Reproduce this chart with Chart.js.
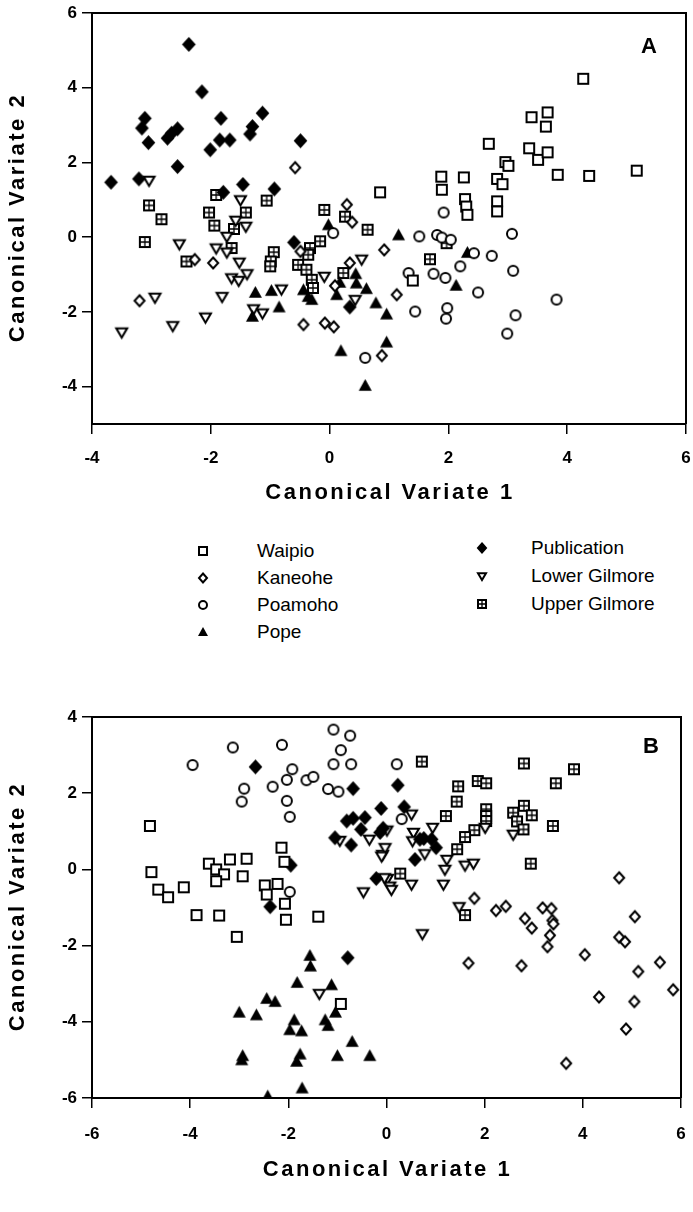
<!DOCTYPE html>
<html>
<head>
<meta charset="utf-8">
<script src="https://cdn.jsdelivr.net/npm/chart.js@4.4.0/dist/chart.umd.min.js"></script>
<style>
  html, body { margin: 0; padding: 0; background: #fff; }
  #page { position: relative; width: 693px; height: 1212px; overflow: hidden; background: #fff; }
  #chartA { position: absolute; left: 0; top: 0; }
  #chartB { position: absolute; left: 0; top: 690px; }
  .leg { position: absolute; font: 19px "Liberation Sans", Arial, sans-serif; color: #000; white-space: nowrap; line-height: 22px; height: 22px; }
  .leg canvas { position: absolute; }
</style>
</head>
<body>
<div id="page">
  <canvas id="chartA" width="693" height="510"></canvas>
  <div id="legend"></div>
  <canvas id="chartB" width="693" height="522"></canvas>
</div>
<script>
// ---------------- DATA (panel A) ----------------
const xTicksA = [-4, -2, 0, 2, 4, 6];
const yTicksA = [6, 4, 2, 0, -2, -4];

const waipioA = [[4.27,4.24],[3.40,3.21],[3.67,3.34],[3.64,2.96],[2.68,2.50],[3.36,2.38],[3.51,2.07],[3.67,2.27],
  [2.96,2.01],[3.01,1.91],[3.84,1.67],[4.37,1.64],[5.17,1.78],[1.88,1.62],[1.89,1.27],[2.26,1.60],[2.82,1.56],
  [2.91,1.42],[2.28,1.02],[2.30,0.82],[2.32,0.60],[2.82,0.96],[2.82,0.69],[0.85,1.20],[1.40,-1.16]];
const kaneoheA = [[-0.58,1.86],[0.29,0.87],[0.38,0.40],[-0.49,-0.38],[-1.96,-0.69],[-2.27,-0.60],[-3.20,-1.70],
  [0.34,-0.69],[0.92,-0.34],[0.09,-1.30],[0.88,-3.17],[-0.44,-2.34],[-0.08,-2.30],[0.07,-2.40],[1.13,-1.54]];
const poamohoA = [[1.92,0.66],[1.51,0.02],[1.81,0.06],[1.89,-0.01],[2.04,-0.07],[3.07,0.09],[2.43,-0.43],[2.73,-0.50],
  [2.20,-0.78],[3.09,-0.90],[1.33,-0.96],[1.75,-0.98],[1.95,-1.09],[2.50,-1.48],[3.82,-1.67],[1.44,-1.99],
  [1.98,-1.90],[1.96,-2.18],[3.13,-2.09],[2.99,-2.58],[0.06,0.11],[0.60,-3.23]];
const popeA = [[-0.02,0.33],[1.16,0.06],[2.32,-0.41],[2.13,-1.29],[-1.25,-1.48],[-0.98,-1.43],[-0.85,-1.87],
  [-1.30,-2.12],[-0.44,-1.41],[-0.36,-1.59],[-0.30,-1.67],[0.12,-1.54],[0.17,-1.21],[0.44,-0.98],[0.45,-1.23],
  [0.62,-1.38],[0.78,-1.76],[0.96,-2.06],[0.96,-2.81],[0.19,-3.04],[0.60,-3.97]];
const publicationA = [[-2.37,5.16],[-2.15,3.89],[-3.11,3.18],[-3.16,2.92],[-3.05,2.53],[-2.73,2.65],[-2.66,2.78],
  [-2.56,2.90],[-1.83,3.18],[-1.85,2.60],[-1.68,2.60],[-2.01,2.34],[-1.13,3.32],[-1.30,2.96],[-1.34,2.76],
  [-0.49,2.58],[-2.56,1.89],[-3.68,1.47],[-3.21,1.56],[-1.46,1.41],[-0.93,1.29],[-1.79,1.20],[-0.60,-0.14],[0.34,-1.87]];
const lowerGilmoreA = [[-3.04,1.52],[-1.50,1.00],[-1.58,0.45],[-1.41,0.29],[-1.73,0.02],[-2.53,-0.18],[-1.91,-0.29],
  [-1.73,-0.40],[-1.52,-0.67],[-1.65,-1.09],[-1.53,-1.16],[-1.39,-0.98],[-2.94,-1.61],[-1.81,-1.59],[-0.81,-1.39],
  [-1.28,-1.92],[-1.13,-2.03],[-2.09,-2.14],[-2.64,-2.37],[-3.50,-2.54],[-0.09,-1.05],[0.54,-0.59],[0.43,-1.67]];
const upperGilmoreA = [[-3.04,0.85],[-2.83,0.48],[-1.91,1.13],[-2.03,0.66],[-1.94,0.31],[-1.61,0.22],[-1.41,0.66],
  [-1.06,0.98],[-0.09,0.73],[0.26,0.55],[0.64,0.20],[-3.11,-0.13],[-1.65,-0.29],[-2.41,-0.65],[-0.94,-0.40],
  [-0.99,-0.65],[-1.00,-0.78],[-0.53,-0.74],[-0.33,-0.29],[-0.16,-0.11],[-0.36,-0.47],[-0.39,-0.87],[-0.30,-1.14],
  [-0.28,-1.36],[0.23,-0.96],[1.69,-0.59],[1.97,-0.16]];

// ---------------- DATA (panel B) ----------------
const xTicksB = [-6, -4, -2, 0, 2, 4, 6];
const yTicksB = [4, 2, 0, -2, -4, -6];

const waipioB = [[-4.82,1.14],[-4.79,-0.07],[-4.65,-0.53],[-4.45,-0.73],[-4.13,-0.47],[-3.62,0.15],[-3.47,0.00],
  [-3.19,0.26],[-2.85,0.28],[-3.31,-0.13],[-3.47,-0.31],[-2.93,-0.18],[-2.14,0.57],[-2.08,0.20],[-2.48,-0.42],
  [-2.22,-0.38],[-2.44,-0.66],[-2.07,-0.90],[-2.05,-1.32],[-3.87,-1.20],[-3.41,-1.21],[-1.39,-1.24],[-3.05,-1.77],[-0.93,-3.53]];
const kaneoheB = [[4.74,-0.22],[1.79,-0.76],[2.23,-1.08],[2.43,-0.97],[2.82,-1.29],[2.96,-1.54],[3.18,-1.01],
  [3.36,-1.03],[3.38,-1.34],[3.40,-1.43],[3.33,-1.73],[3.28,-2.03],[5.06,-1.24],[4.74,-1.78],[4.86,-1.90],
  [4.04,-2.24],[1.67,-2.46],[2.75,-2.53],[5.57,-2.44],[5.13,-2.68],[5.84,-3.16],[4.33,-3.35],[5.05,-3.47],
  [4.88,-4.19],[3.66,-5.09]];
const poamohoB = [[-1.08,3.67],[-0.74,3.51],[-0.93,3.13],[-1.08,2.76],[-0.72,2.76],[-3.13,3.20],[-2.13,3.27],
  [-3.95,2.74],[-1.92,2.63],[-2.03,2.35],[-2.32,2.17],[-1.63,2.34],[-1.49,2.43],[-2.90,2.12],[-2.95,1.78],
  [-2.03,1.80],[-1.97,1.38],[-1.19,2.11],[-0.98,2.04],[-1.97,-0.59],[0.21,2.76],[0.31,1.32]];
const popeB = [[-1.56,-2.26],[-1.55,-2.54],[-1.82,-2.97],[-1.12,-3.03],[-2.44,-3.39],[-2.27,-3.47],[-3.00,-3.75],
  [-2.65,-3.82],[-1.88,-3.95],[-1.97,-4.21],[-1.73,-4.24],[-1.25,-3.95],[-1.19,-4.10],[-1.04,-3.75],[-0.70,-4.52],
  [-2.93,-4.89],[-2.95,-5.00],[-1.76,-4.85],[-1.83,-5.04],[-1.00,-4.89],[-0.34,-4.89],[-1.72,-5.74],[-2.42,-5.95]];
const publicationB = [[-2.67,2.69],[-0.68,2.12],[0.23,2.21],[-0.11,1.60],[0.36,1.64],[-0.44,1.36],[-0.81,1.27],
  [-0.68,1.34],[-0.52,1.05],[-1.05,0.83],[-0.72,0.64],[-0.13,0.97],[-0.07,1.08],[0.68,0.79],[0.76,0.81],
  [0.92,0.79],[1.01,0.57],[0.58,0.26],[-0.21,-0.24],[-1.95,0.11],[-2.37,-0.98],[-0.79,-2.32]];
const lowerGilmoreB = [[-0.95,0.76],[-0.35,0.79],[-0.08,0.39],[0.01,1.03],[-0.47,-0.59],[0.02,-0.24],[0.51,1.45],
  [-0.03,0.57],[-0.10,0.35],[0.55,0.97],[0.53,0.75],[0.94,1.10],[0.78,0.41],[1.23,0.26],[1.19,0.00],[1.60,0.11],
  [1.77,0.16],[2.01,1.10],[0.07,-0.44],[0.51,-0.39],[1.16,-0.39],[2.58,0.92],[1.48,-0.98],[0.73,-1.69],
  [-1.37,-3.26],[0.10,-0.53],[-0.04,-0.22]];
const upperGilmoreB = [[0.72,2.83],[2.80,2.78],[3.82,2.63],[3.45,2.26],[1.46,2.18],[1.86,2.32],[2.03,2.26],
  [1.43,1.78],[1.21,1.40],[2.03,1.58],[2.03,1.40],[2.03,1.27],[1.79,1.03],[1.60,0.85],[1.44,0.53],[2.58,1.49],
  [2.80,1.67],[2.96,1.42],[2.66,1.26],[2.79,1.05],[3.39,1.14],[2.94,0.15],[0.28,-0.11],[1.60,-1.20]];

const seriesNames = ["Waipio", "Kaneohe", "Poamoho", "Pope", "Publication", "Lower Gilmore", "Upper Gilmore"];
const seriesKinds = ["square", "diamond", "circle", "triangle", "diamondFilled", "triangleDown", "squareCross"];
const panelAData = [waipioA, kaneoheA, poamohoA, popeA, publicationA, lowerGilmoreA, upperGilmoreA];
const panelBData = [waipioB, kaneoheB, poamohoB, popeB, publicationB, lowerGilmoreB, upperGilmoreB];

// ---------------- SYMBOLS ----------------
function drawSymbol(g, kind, x, y, s) {
  const h = s / 2;
  g.save();
  g.lineWidth = 2;
  g.strokeStyle = "#000";
  g.fillStyle = "#fff";
  g.beginPath();
  if (kind === "square" || kind === "squareCross") {
    g.rect(x - h + 1, y - h + 1, s - 2, s - 2);
    g.fill();
    g.stroke();
    if (kind === "squareCross") {
      g.lineWidth = 1.3;
      g.beginPath();
      g.moveTo(x, y - h + 1); g.lineTo(x, y + h - 1);
      g.moveTo(x - h + 1, y); g.lineTo(x + h - 1, y);
      g.stroke();
    }
  } else if (kind === "circle") {
    g.arc(x, y, h - 1, 0, Math.PI * 2);
    g.fill();
    g.stroke();
  } else if (kind === "diamond" || kind === "diamondFilled") {
    g.moveTo(x, y - h + 0.5);
    g.lineTo(x + h - 1, y);
    g.lineTo(x, y + h - 0.5);
    g.lineTo(x - h + 1, y);
    g.closePath();
    if (kind === "diamondFilled") g.fillStyle = "#000";
    g.fill();
    g.stroke();
  } else if (kind === "triangle") {
    g.moveTo(x, y - h);
    g.lineTo(x + h, y + h * 0.8);
    g.lineTo(x - h, y + h * 0.8);
    g.closePath();
    g.fillStyle = "#000";
    g.fill();
  } else if (kind === "triangleDown") {
    g.moveTo(x - h + 1, y - h * 0.75 + 1);
    g.lineTo(x + h - 1, y - h * 0.75 + 1);
    g.lineTo(x, y + h - 1);
    g.closePath();
    g.fill();
    g.stroke();
  }
  g.restore();
}

function makeSymbol(kind, s) {
  const size = Math.ceil(s + 4);
  const c = document.createElement("canvas");
  c.width = size;
  c.height = size;
  drawSymbol(c.getContext("2d"), kind, size / 2, size / 2, s);
  return c;
}

const symbolSizes = { square: 12, diamond: 12, circle: 12, triangle: 13, diamondFilled: 13, triangleDown: 13, squareCross: 12 };
const pointSymbols = seriesKinds.map((k) => makeSymbol(k, symbolSizes[k]));

// ---------------- PLUGINS ----------------
// frame on top/right, axis titles with wide spacing, panel letter
const framePlugin = {
  id: "frame",
  afterDraw(chart, args, opts) {
    const { ctx, chartArea: a } = chart;
    ctx.save();
    ctx.strokeStyle = "#000";
    ctx.lineWidth = 2;
    ctx.beginPath();
    ctx.moveTo(a.left, a.top);
    ctx.lineTo(a.right, a.top);
    ctx.lineTo(a.right, a.bottom);
    ctx.stroke();

    ctx.fillStyle = "#000";
    ctx.textAlign = "center";
    ctx.textBaseline = "middle";
    ctx.font = 'bold 22px "Liberation Sans", Arial, sans-serif';
    ctx.fillText(opts.label, a.right + opts.dx, a.top + opts.dy);

    ctx.letterSpacing = "2.5px";
    ctx.fillText(opts.xTitle, (a.left + a.right) / 2 + 1, a.bottom + opts.xTitleOffset);
    ctx.translate(18, (a.top + a.bottom) / 2);
    ctx.rotate(-Math.PI / 2);
    ctx.fillText(opts.yTitle, 1, 0);
    ctx.restore();
  }
};

const tickFont = { family: '"Liberation Sans", Arial, sans-serif', size: 17, weight: "bold" };

function makeChart(canvas, data, cfg) {
  return new Chart(canvas, {
    type: "scatter",
    data: {
      datasets: data.map((pts, i) => ({
        label: seriesNames[i],
        data: pts.map((p) => ({ x: p[0], y: p[1] })),
        pointStyle: pointSymbols[i],
        pointRadius: 6,
        pointHoverRadius: 6
      }))
    },
    options: {
      responsive: false,
      animation: false,
      devicePixelRatio: 1,
      events: [],
      layout: { padding: cfg.padding },
      plugins: {
        legend: { display: false },
        tooltip: { enabled: false },
        frame: {
          label: cfg.label, dx: cfg.labelDx, dy: cfg.labelDy,
          xTitle: "Canonical Variate 1", yTitle: "Canonical Variate 2", xTitleOffset: cfg.xTitleOffset
        }
      },
      scales: {
        x: {
          type: "linear",
          min: cfg.xTicks[0],
          max: cfg.xTicks[cfg.xTicks.length - 1],
          afterBuildTicks: (axis) => { axis.ticks = cfg.xTicks.map((v) => ({ value: v })); },
          afterFit: (axis) => { axis.height = cfg.xAxisHeight; axis.paddingLeft = 0; axis.paddingRight = 0; },
          ticks: { color: "#000", font: tickFont, padding: cfg.xTickPad, maxRotation: 0, callback: (v) => String(v) },
          grid: { drawOnChartArea: false, drawTicks: true, tickLength: 10, color: "#000", lineWidth: 1.5 },
          border: { display: true, color: "#000", width: 2 }
        },
        y: {
          type: "linear",
          min: cfg.yMin,
          max: cfg.yTicks[0],
          afterBuildTicks: (axis) => { axis.ticks = cfg.yTicks.map((v) => ({ value: v })); },
          afterFit: (axis) => { axis.width = 92; axis.paddingTop = 0; axis.paddingBottom = 0; },
          ticks: { color: "#000", font: tickFont, padding: 5, callback: (v) => String(v) },
          grid: { drawOnChartArea: false, drawTicks: true, tickLength: 10, color: "#000", lineWidth: 1.5 },
          border: { display: true, color: "#000", width: 2 }
        }
      }
    },
    plugins: [framePlugin]
  });
}

makeChart(document.getElementById("chartA"), panelAData, {
  padding: { top: 13, right: 7, bottom: 0, left: 0 },
  xTicks: xTicksA, yTicks: yTicksA, yMin: -5,
  xAxisHeight: 86, xTickPad: 14, xTitleOffset: 69,
  label: "A", labelDx: -37, labelDy: 34
});

makeChart(document.getElementById("chartB"), panelBData, {
  padding: { top: 27, right: 12, bottom: 20, left: 0 },
  xTicks: xTicksB, yTicks: yTicksB, yMin: -6,
  xAxisHeight: 94, xTickPad: 16, xTitleOffset: 72,
  label: "B", labelDx: -30, labelDy: 30
});

// ---------------- LEGEND ----------------
const legendCols = [
  { textX: 257, symX: 203, rows: [551, 578, 605, 632], items: [0, 1, 2, 3] },
  { textX: 531, symX: 482, rows: [548, 576, 604], items: [4, 5, 6] }
];
const legendEl = document.getElementById("legend");
legendCols.forEach((col) => {
  col.items.forEach((idx, r) => {
    const item = document.createElement("div");
    item.className = "leg";
    item.style.left = col.textX + "px";
    item.style.top = (col.rows[r] - 11) + "px";
    item.textContent = seriesNames[idx];
    const sym = makeSymbol(seriesKinds[idx], 10);
    sym.style.left = (col.symX - col.textX - sym.width / 2) + "px";
    sym.style.top = (11 - sym.height / 2) + "px";
    item.appendChild(sym);
    legendEl.appendChild(item);
  });
});
</script>
</body>
</html>
